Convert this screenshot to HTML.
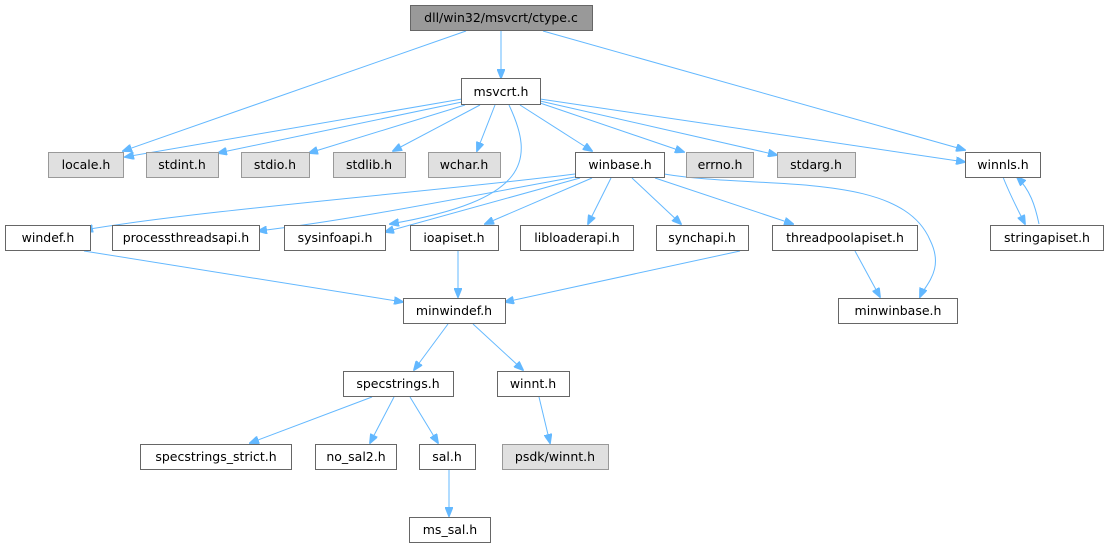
<!DOCTYPE html>
<html><head><meta charset="utf-8"><style>
html,body{margin:0;padding:0;background:#fff;}
svg{display:block;}
text{font-family:"DejaVu Sans","Liberation Sans",sans-serif;font-size:12.5px;fill:#000;text-anchor:middle;}
.n{fill:#fff;stroke:#666;stroke-width:1;}
.g{fill:#e0e0e0;stroke:#999;stroke-width:1;}
.r{fill:#999;stroke:#666;stroke-width:1;}
.e{fill:none;stroke:#63b8ff;stroke-width:1;marker-end:url(#a);}
</style></head><body>
<svg width="1109" height="549" viewBox="0 0 1109 549">
<defs><marker id="a" markerWidth="10" markerHeight="8" refX="9" refY="4" orient="auto" markerUnits="userSpaceOnUse"><path d="M0,0 L10,4 L0,8 z" fill="#63b8ff" stroke="#63b8ff"/></marker></defs>
<path class="e" d="M466,31 L123,151"/>
<path class="e" d="M501,31 L501,78"/>
<path class="e" d="M543,31 L965,150"/>
<path class="e" d="M462,99 L125,157"/>
<path class="e" d="M462,102 L218,153"/>
<path class="e" d="M465,105 L309,153"/>
<path class="e" d="M480,105 L393,151"/>
<path class="e" d="M495,105 L477,151"/>
<path class="e" d="M509,105 C535,160 530,200 390,224"/>
<path class="e" d="M520,105 L592,151"/>
<path class="e" d="M540,103 L684,152"/>
<path class="e" d="M540,101 L777,155"/>
<path class="e" d="M540,99 L965,162"/>
<path class="e" d="M575,174 C450,190 200,210 84,230"/>
<path class="e" d="M575,177 C450,200 350,220 258,231"/>
<path class="e" d="M580,178 L385,232"/>
<path class="e" d="M592,178 L485,224"/>
<path class="e" d="M611,178 L588,224"/>
<path class="e" d="M632,178 L681,224"/>
<path class="e" d="M655,178 L793,224"/>
<path class="e" d="M664,174 C760,190 900,170 930,240 C945,270 925,285 920,297"/>
<path class="e" d="M1003,177 C1010,195 1018,210 1025,224"/>
<path class="e" d="M1039,224 C1035,205 1030,190 1017,177"/>
<path class="e" d="M84,251 L403,302"/>
<path class="e" d="M458,251 L458,297"/>
<path class="e" d="M740,251 L505,302"/>
<path class="e" d="M855,251 L880,297"/>
<path class="e" d="M448,324 L414,370"/>
<path class="e" d="M473,324 L523,370"/>
<path class="e" d="M372,397 L250,443"/>
<path class="e" d="M394,397 L370,443"/>
<path class="e" d="M410,397 L438,443"/>
<path class="e" d="M539,397 L550,443"/>
<path class="e" d="M449,470 L449,516"/>
<rect class="r" x="410.5" y="5.5" width="182" height="25"/><text x="501" y="22">dll/win32/msvcrt/ctype.c</text>
<rect class="n" x="461.5" y="78.5" width="79" height="26"/><text x="501" y="96">msvcrt.h</text>
<rect class="g" x="48.5" y="152.5" width="75" height="25"/><text x="86" y="169">locale.h</text>
<rect class="g" x="146.5" y="152.5" width="72" height="25"/><text x="182" y="169">stdint.h</text>
<rect class="g" x="241.5" y="152.5" width="68" height="25"/><text x="275" y="169">stdio.h</text>
<rect class="g" x="333.5" y="152.5" width="72" height="25"/><text x="369" y="169">stdlib.h</text>
<rect class="g" x="428.5" y="152.5" width="72" height="25"/><text x="464" y="169">wchar.h</text>
<rect class="n" x="575.5" y="152.5" width="89" height="25"/><text x="620" y="169">winbase.h</text>
<rect class="g" x="686.5" y="152.5" width="67" height="25"/><text x="720" y="169">errno.h</text>
<rect class="g" x="777.5" y="152.5" width="78" height="25"/><text x="816" y="169">stdarg.h</text>
<rect class="n" x="965.5" y="152.5" width="75" height="25"/><text x="1003" y="169">winnls.h</text>
<rect class="n" x="5.5" y="225.5" width="85" height="25"/><text x="48" y="242">windef.h</text>
<rect class="n" x="112.5" y="225.5" width="147" height="25"/><text x="186" y="242">processthreadsapi.h</text>
<rect class="n" x="284.5" y="225.5" width="101" height="25"/><text x="335" y="242">sysinfoapi.h</text>
<rect class="n" x="410.5" y="225.5" width="88" height="25"/><text x="454" y="242">ioapiset.h</text>
<rect class="n" x="520.5" y="225.5" width="113" height="25"/><text x="577" y="242">libloaderapi.h</text>
<rect class="n" x="656.5" y="225.5" width="92" height="25"/><text x="702" y="242">synchapi.h</text>
<rect class="n" x="772.5" y="225.5" width="145" height="25"/><text x="845" y="242">threadpoolapiset.h</text>
<rect class="n" x="990.5" y="225.5" width="113" height="25"/><text x="1047" y="242">stringapiset.h</text>
<rect class="n" x="403.5" y="298.5" width="102" height="25"/><text x="454" y="315">minwindef.h</text>
<rect class="n" x="838.5" y="298.5" width="119" height="25"/><text x="898" y="315">minwinbase.h</text>
<rect class="n" x="343.5" y="371.5" width="110" height="25"/><text x="398" y="388">specstrings.h</text>
<rect class="n" x="497.5" y="371.5" width="72" height="25"/><text x="533" y="388">winnt.h</text>
<rect class="n" x="140.5" y="444.5" width="151" height="25"/><text x="216" y="461">specstrings_strict.h</text>
<rect class="n" x="315.5" y="444.5" width="81" height="25"/><text x="356" y="461">no_sal2.h</text>
<rect class="n" x="419.5" y="444.5" width="56" height="25"/><text x="447" y="461">sal.h</text>
<rect class="g" x="502.5" y="444.5" width="106" height="25"/><text x="555" y="461">psdk/winnt.h</text>
<rect class="n" x="409.5" y="517.5" width="81" height="25"/><text x="450" y="534">ms_sal.h</text>
</svg>
</body></html>
